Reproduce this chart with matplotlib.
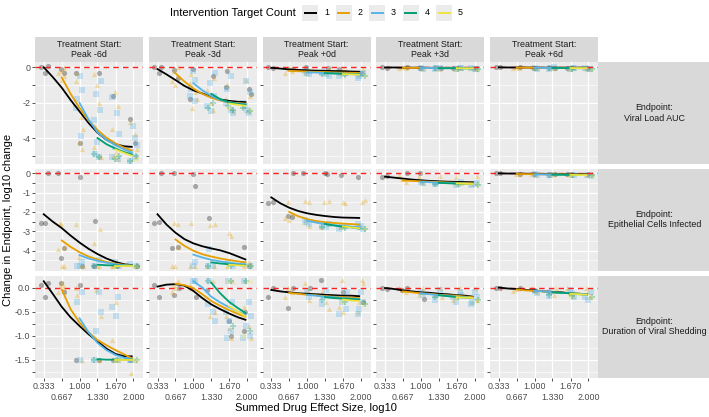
import matplotlib.pyplot as plt
from matplotlib.patches import Rectangle
from matplotlib.ticker import FixedLocator

plt.rcParams['font.family'] = ['Liberation Sans', 'DejaVu Sans']
plt.rcParams['axes.unicode_minus'] = False

# ---- data -------------------------------------------------------------
col_labels = ['Treatment Start:\nPeak -6d', 'Treatment Start:\nPeak -3d', 'Treatment Start:\nPeak +0d',
              'Treatment Start:\nPeak +3d', 'Treatment Start:\nPeak +6d']
row_labels = ['Endpoint:\nViral Load AUC', 'Endpoint:\nEpithelial Cells Infected',
              'Endpoint:\nDuration of Viral Shedding']
counts = ['1', '2', '3', '4', '5']
x_levels = [0.333, 0.667, 1.0, 1.33, 1.67, 2.0]
fit_x = [0.333, 0.5, 0.667, 0.833, 1.0, 1.167, 1.333, 1.5, 1.667, 1.833, 1.97]
x_ticks_a = [0.333, 1.0, 1.67]
x_labels_a = ['0.333', '1.000', '1.670']
x_ticks_b = [0.667, 1.33, 2.0]
x_labels_b = ['0.667', '1.330', '2.000']
row_yticks = [[0, -2, -4], [0, -1, -2, -3, -4], [0.0, -0.5, -1.0, -1.5]]
row_yticklabels = [['0', '-2', '-4'], ['0', '-1', '-2', '-3', '-4'], ['0.0', '-0.5', '-1.0', '-1.5']]
row_yminor = [[-1, -3, -5], [-0.5, -1.5, -2.5, -3.5, -4.5], [-0.25, -0.75, -1.25, -1.75]]

# points: per target count, per x level
vl_m6_pts = [
    [[0.0, -0.35, 0.05], [-0.1, -0.35], [-0.3, -4.3], [-0.3], [-1.6], [-2.9, -4.3]],
    [[], [-0.2, -0.5, -0.3, -0.7, -0.05], [-0.3, -0.8, -2.8, -3.5, -4.2, -4.6], [-0.4, -1.0, -2.0, -3.3, -4.5, -5.0, -5.1],
     [-1.4, -2.2, -3.5, -4.8, -5.2, -5.0], [-3.1, -3.8, -4.6, -5.2, -5.0]],
    [[], [], [-0.5, -1.3, -1.8, -2.3, -3.9], [-0.8, -1.5, -2.4, -3.0, -4.2, -5.1, -4.9],
     [-1.7, -2.6, -3.8, -4.5, -5.2, -5.1], [-3.3, -4.0, -4.8, -5.3, -5.1, -4.4]],
    [[], [], [], [-4.9, -5.1], [-5.0, -5.2], [-5.0, -5.3]],
    [[], [], [], [], [-5.1], [-5.2]]]
vl_m3_pts = [
    [[0.0, -0.3, 0.0], [-0.15, -0.6], [-1.8, -0.1], [-0.5], [-0.2, -1.1], [-1.2, -1.5]],
    [[], [-0.2, -0.5, -0.8, -1.0, 0.0], [-0.4, -0.9, -1.4, -1.8, -2.3], [-0.6, -1.3, -2.0, -2.4],
     [-1.0, -1.8, -2.3, -2.5], [-0.7, -1.6, -2.2, -2.5]],
    [[], [], [-0.2, -0.7, -1.2, -1.6, -1.9], [-0.3, -0.9, -1.6, -2.2, -2.5], [-0.5, -1.2, -2.0, -2.4, -2.6],
     [-0.8, -1.4, -2.0, -2.4, -2.6, -2.2]],
    [[], [], [], [-2.3, -2.0], [-2.4, -2.2], [-2.5, -2.3]],
    [[], [], [], [], [-2.3], [-2.4]]]
vl_p0_pts = [
    [[0.0, -0.05], [-0.1], [0.0], [-0.05], [-0.1], [-0.3]],
    [[], [-0.1, -0.2, -0.3, 0.0], [-0.2, -0.3, -0.1], [-0.3, -0.1, -0.2], [-0.2, -0.35, -0.1], [-0.1, -0.4, -0.25]],
    [[], [], [-0.3, -0.4, -0.2], [-0.3, -0.4, -0.5, -0.2], [-0.3, -0.5, -0.4], [-0.3, -0.5, -0.6, -0.4]],
    [[], [], [], [-0.4], [-0.45], [-0.5]],
    [[], [], [], [], [-0.4], [-0.45]]]
vl_p3_pts = [
    [[0.0, -0.02], [0.0], [-0.02], [-0.03], [-0.02], [-0.03]],
    [[], [0.0, -0.04, -0.06], [-0.03, -0.06, 0.0], [-0.04, -0.07], [-0.04, -0.08, 0.0], [-0.05, -0.08]],
    [[], [], [-0.04, -0.08], [-0.05, -0.1, -0.02], [-0.06, -0.1, -0.03], [-0.05, -0.1, -0.12]],
    [[], [], [], [-0.06], [-0.08], [-0.1]],
    [[], [], [], [], [-0.07], [-0.1]]]
vl_p6_pts = [
    [[0.0, -0.01], [0.0], [-0.02], [-0.02], [-0.02], [-0.03]],
    [[], [0.0, -0.03, -0.05], [-0.02, -0.05, 0.0], [-0.03, -0.06], [-0.04, -0.07, 0.0], [-0.04, -0.07]],
    [[], [], [-0.03, -0.07], [-0.04, -0.08, -0.01], [-0.05, -0.09, -0.02], [-0.05, -0.09, -0.11]],
    [[], [], [], [-0.05], [-0.07], [-0.09]],
    [[], [], [], [], [-0.06], [-0.09]]]
ec_m6_pts = [
    [[-2.55, -2.55, 0.0], [-4.4, -3.85, 0.0], [-0.2, -4.77], [-2.45, -4.77], [-4.77], [-4.77]],
    [[], [-2.6, -3.8, -3.9, -4.77, -4.77, -2.55], [-2.6, -4.77, -4.77, -4.3], [-2.9, -3.6, -4.77, -4.77],
     [-4.77, -4.77], [-4.77, -4.77]],
    [[], [], [-4.77, -4.6, -4.77], [-4.77, -4.5], [-4.77, -4.6], [-4.77, -4.7]],
    [[], [], [], [-4.77], [-4.77], [-4.77]],
    [[], [], [], [], [-4.77], [-4.77]]]
ec_m3_pts = [
    [[-2.55, -2.5, 0.0], [0.0, -3.8, -3.85], [-0.05, -0.65], [-2.3], [], [-3.8, -4.77]],
    [[], [-2.55, -3.8, -4.77, -4.77, -2.6], [-2.55, -4.77, -4.77], [-2.6, -2.65, -4.77, -4.77],
     [-3.1, -3.25, -4.77], [-4.77, -4.6]],
    [[], [], [-4.77, -4.6], [-3.9, -4.77, -4.77], [-4.77, -4.6], [-4.77, -4.7]],
    [[], [], [], [-4.77], [-4.77], [-4.77]],
    [[], [], [], [], [-4.77], [-4.77]]]
ec_p0_pts = [
    [[-1.55, -1.5], [0.0, -2.2, -2.25], [0.0], [0.0, -0.05], [-0.1], [-0.2]],
    [[], [-1.5, -2.1, -2.3, -2.4], [-1.5, -1.45, -2.5, -2.7], [-1.45, -1.5, -2.6, -2.8], [-1.5, -1.55, -2.7, -2.8],
     [-1.5, -1.4, -2.8]],
    [[], [], [-2.5, -2.6, -2.4], [-2.7, -2.8, -2.6], [-2.8, -2.7, -2.9], [-2.7, -2.9, -2.8, -2.6]],
    [[], [], [], [-2.8], [-2.85], [-2.9]],
    [[], [], [], [], [-2.8], [-2.85]]]
ec_p3_pts = [
    [[-0.2, -0.15], [0.0], [0.0], [], [], []],
    [[], [-0.3, -0.45, -0.1], [-0.4, -0.5, -0.15], [-0.45, -0.15], [-0.5, -0.2], [-0.15, -0.55]],
    [[], [], [-0.45, -0.5], [-0.5, -0.55], [-0.55, -0.45, -0.6], [-0.5, -0.6, -0.55]],
    [[], [], [], [-0.55], [-0.55], [-0.6]],
    [[], [], [], [], [-0.55], [-0.58]]]
ec_p6_pts = [
    [[0.0, -0.01], [-0.02], [-0.03], [-0.03], [-0.04], [-0.05]],
    [[], [-0.03, -0.06], [-0.04, -0.08], [-0.05, -0.09], [-0.06, -0.1], [-0.06, -0.1]],
    [[], [], [-0.06, -0.1], [-0.07, -0.11], [-0.08, -0.12], [-0.08, -0.13]],
    [[], [], [], [-0.09], [-0.1], [-0.11]],
    [[], [], [], [], [-0.1], [-0.12]]]
ds_m6_pts = [
    [[0.05, -0.2, 0.1], [0.1, -0.1], [-1.5, 0.05], [-1.5], [-1.5], [-1.5]],
    [[], [0.05, 0.0, -0.1, 0.1], [-1.5, -0.15, 0.0], [-1.5, -0.6, -0.05], [-1.5, -1.1, -0.3], [-1.5, -1.78]],
    [[], [], [-1.5, -0.1, -0.3], [-1.5, -0.1, -0.5, -0.9], [-1.5, -0.4, -0.6, -0.2], [-1.5, -1.5]],
    [[], [], [], [-1.5], [-1.5], [-1.5]],
    [[], [], [], [], [-1.5], [-1.5]]]
ds_m3_pts = [
    [[0.05, -0.19], [0.0, -0.15], [-0.2], [-0.05], [-0.7, -1.0], [-0.5, -0.9]],
    [[], [0.05, 0.13, -0.1, 0.0], [0.13, 0.0, 0.05], [0.13, -0.5, -0.6], [0.13, -0.6, -0.85, -1.05],
     [0.13, -0.4, -0.8, -1.05]],
    [[], [], [0.13, 0.13], [0.13, -0.35, -0.5, -0.7], [0.13, -0.3, -0.5, -0.7, -0.9, -1.05],
     [0.13, -0.3, -0.6, -0.8, -1.0, -1.05]],
    [[], [], [], [0.13], [0.13, -0.8], [0.13, -0.9]],
    [[], [], [], [], [0.13], [0.13, -1.0]]]
ds_p0_pts = [
    [[-0.2, 0.0], [0.0, -0.42], [0.0], [0.15], [-0.1], [-0.3]],
    [[], [0.0, -0.1, -0.2], [-0.05, -0.25, 0.1], [-0.1, -0.3, -0.45], [0.16, -0.2, -0.4, -0.5],
     [0.1, -0.3, -0.5, 0.16]],
    [[], [], [-0.1, -0.2], [-0.2, -0.35, -0.05], [-0.1, -0.3, -0.45, -0.55], [-0.1, -0.3, -0.45, -0.55]],
    [[], [], [], [-0.25], [-0.3], [-0.35]],
    [[], [], [], [], [-0.3], [-0.35]]]
ds_p3_pts = [
    [[0.0, -0.03], [0.0, -0.05], [-0.24], [], [], []],
    [[], [-0.05, -0.1, 0.0], [-0.1, 0.0, -0.15], [-0.15, 0.0, -0.2], [-0.2, 0.0, -0.25], [0.0, -0.25, -0.3]],
    [[], [], [-0.1, -0.15], [-0.15, -0.25, -0.05], [-0.15, -0.3, -0.1, -0.2], [-0.1, -0.2, -0.3, -0.35]],
    [[], [], [], [-0.2], [-0.2], [-0.25]],
    [[], [], [], [], [-0.22], [-0.25]]]
ds_p6_pts = [
    [[0.0, -0.02], [0.0], [-0.05], [], [], []],
    [[], [-0.03, 0.0, -0.08], [-0.05, -0.1, 0.0], [-0.1, -0.15, 0.0], [-0.12, -0.18, 0.0], [-0.1, -0.2, 0.0]],
    [[], [], [-0.08, -0.12], [-0.1, -0.18], [-0.12, -0.2, -0.05], [-0.1, -0.2, -0.25]],
    [[], [], [], [-0.15], [-0.18], [-0.2]],
    [[], [], [], [], [-0.18], [-0.2]]]

# smooth fits: values at the tail of fit_x
vl_m6_fit = [[0.0, -0.55, -1.15, -1.85, -2.5, -3.15, -3.7, -4.1, -4.35, -4.47, -4.5],
             [-0.57, -1.5, -2.3, -3.0, -3.55, -3.98, -4.3, -4.55, -4.7],
             [-2.02, -2.95, -3.68, -4.1, -4.4, -4.65, -4.82],
             [-4.0, -4.35, -4.6, -4.8, -4.93],
             [-4.65, -4.85, -5.0]]
vl_m3_fit = [[-0.1, -0.4, -0.72, -1.05, -1.3, -1.48, -1.68, -1.82, -1.9, -1.95, -1.97],
             [-0.34, -0.8, -1.2, -1.5, -1.72, -1.88, -1.98, -2.03, -2.05],
             [-0.9, -1.3, -1.62, -1.85, -1.98, -2.05, -2.08],
             [-1.5, -1.8, -1.98, -2.07, -2.12],
             [-2.05, -2.12, -2.18]]
vl_p0_fit = [[-0.03, -0.07, -0.12, -0.15, -0.17, -0.19, -0.2, -0.21, -0.22, -0.24, -0.25],
             [-0.2, -0.22, -0.24, -0.26, -0.27, -0.29, -0.3, -0.31, -0.32],
             [-0.28, -0.3, -0.32, -0.34, -0.35, -0.37, -0.38],
             [-0.33, -0.35, -0.37, -0.39, -0.4],
             [-0.38, -0.4, -0.42]]
vl_p3_fit = [[-0.01, -0.01, -0.02, -0.02, -0.02, -0.03, -0.03, -0.03, -0.03, -0.03, -0.03],
             [-0.03, -0.03, -0.03, -0.04, -0.04, -0.04, -0.04, -0.04, -0.04],
             [-0.04, -0.04, -0.05, -0.05, -0.05, -0.05, -0.05],
             [-0.05, -0.05, -0.05, -0.06, -0.06],
             [-0.05, -0.06, -0.06]]
vl_p6_fit = [[0.0, -0.01, -0.01, -0.01, -0.02, -0.02, -0.02, -0.02, -0.02, -0.02, -0.02],
             [-0.02, -0.02, -0.03, -0.03, -0.03, -0.03, -0.03, -0.03, -0.03],
             [-0.03, -0.03, -0.04, -0.04, -0.04, -0.04, -0.04],
             [-0.04, -0.04, -0.04, -0.05, -0.05],
             [-0.04, -0.05, -0.05]]
ec_m6_fit = [[-2.12, -2.5, -2.83, -3.22, -3.58, -3.9, -4.17, -4.4, -4.58, -4.7, -4.74],
             [-3.47, -3.8, -4.08, -4.3, -4.45, -4.58, -4.67, -4.73, -4.76],
             [-4.23, -4.4, -4.52, -4.62, -4.7, -4.75, -4.77],
             [-4.72, -4.75, -4.76, -4.77, -4.77],
             [-4.77, -4.77, -4.77]]
ec_m3_fit = [[-2.12, -2.65, -3.07, -3.4, -3.62, -3.77, -3.88, -3.98, -4.12, -4.3, -4.45],
             [-3.42, -3.75, -4.0, -4.18, -4.3, -4.4, -4.48, -4.55, -4.6],
             [-4.2, -4.35, -4.47, -4.55, -4.62, -4.67, -4.7],
             [-4.6, -4.66, -4.7, -4.73, -4.75],
             [-4.72, -4.75, -4.77]]
ec_p0_fit = [[-1.25, -1.55, -1.78, -1.95, -2.07, -2.15, -2.21, -2.26, -2.29, -2.3, -2.31],
             [-2.0, -2.22, -2.37, -2.47, -2.53, -2.57, -2.6, -2.63, -2.65],
             [-2.45, -2.55, -2.62, -2.68, -2.72, -2.76, -2.78],
             [-2.62, -2.7, -2.76, -2.8, -2.85],
             [-2.75, -2.8, -2.84]]
ec_p3_fit = [[-0.18, -0.23, -0.28, -0.33, -0.37, -0.4, -0.42, -0.44, -0.45, -0.46, -0.47],
             [-0.38, -0.4, -0.42, -0.44, -0.46, -0.48, -0.5, -0.51, -0.52],
             [-0.45, -0.47, -0.49, -0.51, -0.53, -0.54, -0.55],
             [-0.5, -0.52, -0.54, -0.55, -0.56],
             [-0.53, -0.55, -0.56]]
ec_p6_fit = [[-0.01, -0.02, -0.02, -0.03, -0.03, -0.04, -0.04, -0.04, -0.05, -0.05, -0.05],
             [-0.04, -0.05, -0.05, -0.06, -0.06, -0.06, -0.07, -0.07, -0.07],
             [-0.06, -0.07, -0.07, -0.08, -0.08, -0.08, -0.09],
             [-0.08, -0.08, -0.09, -0.09, -0.1],
             [-0.09, -0.1, -0.1]]
ds_m6_fit = [[0.13, -0.13, -0.4, -0.62, -0.8, -0.97, -1.12, -1.27, -1.38, -1.43, -1.43],
             [-0.04, -0.45, -0.73, -0.93, -1.09, -1.2, -1.3, -1.39, -1.47],
             [-0.64, -0.93, -1.15, -1.3, -1.4, -1.46, -1.5],
             [-1.49, -1.5, -1.5, -1.5, -1.5],
             [-1.5, -1.5, -1.5]]
ds_m3_fit = [[0.02, 0.06, 0.07, 0.04, -0.07, -0.22, -0.35, -0.45, -0.54, -0.62, -0.67],
             [0.08, 0.05, -0.01, -0.14, -0.28, -0.38, -0.47, -0.55, -0.61],
             [0.13, 0.0, -0.19, -0.31, -0.41, -0.5, -0.57],
             [0.1, -0.12, -0.3, -0.43, -0.53],
             [-0.39, -0.5, -0.6]]
ds_p0_fit = [[-0.05, -0.08, -0.1, -0.12, -0.13, -0.14, -0.15, -0.16, -0.17, -0.17, -0.18],
             [-0.11, -0.13, -0.15, -0.16, -0.18, -0.19, -0.2, -0.21, -0.22],
             [-0.15, -0.17, -0.19, -0.2, -0.22, -0.23, -0.24],
             [-0.2, -0.22, -0.23, -0.24, -0.25],
             [-0.25, -0.27, -0.28]]
ds_p3_fit = [[-0.01, -0.03, -0.06, -0.08, -0.1, -0.11, -0.13, -0.14, -0.16, -0.17, -0.19],
             [-0.08, -0.1, -0.12, -0.13, -0.15, -0.16, -0.17, -0.19, -0.2],
             [-0.12, -0.14, -0.16, -0.17, -0.19, -0.2, -0.22],
             [-0.16, -0.18, -0.2, -0.21, -0.22],
             [-0.2, -0.21, -0.22]]
ds_p6_fit = [[0.0, -0.02, -0.03, -0.05, -0.06, -0.08, -0.09, -0.1, -0.12, -0.13, -0.14],
             [-0.04, -0.06, -0.07, -0.08, -0.1, -0.11, -0.12, -0.13, -0.14],
             [-0.07, -0.08, -0.1, -0.11, -0.12, -0.13, -0.14],
             [-0.1, -0.11, -0.12, -0.14, -0.15],
             [-0.13, -0.14, -0.15]]

all_pts = [[vl_m6_pts, vl_m3_pts, vl_p0_pts, vl_p3_pts, vl_p6_pts],
           [ec_m6_pts, ec_m3_pts, ec_p0_pts, ec_p3_pts, ec_p6_pts],
           [ds_m6_pts, ds_m3_pts, ds_p0_pts, ds_p3_pts, ds_p6_pts]]
all_fit = [[vl_m6_fit, vl_m3_fit, vl_p0_fit, vl_p3_fit, vl_p6_fit],
           [ec_m6_fit, ec_m3_fit, ec_p0_fit, ec_p3_fit, ec_p6_fit],
           [ds_m6_fit, ds_m3_fit, ds_p0_fit, ds_p3_fit, ds_p6_fit]]

# ---- style / layout ---------------------------------------------------
colors = ['#000000', '#E69F00', '#56B4E9', '#009E73', '#F0E442']
markers = ['o', '^', 's', 'P', 'X']
jitter = [-0.06, 0.03, 0.07, -0.02, 0.05, -0.07, 0.0, 0.04, -0.04]
row_ylim = [(-5.47, 0.30), (-5.02, 0.24), (-1.87, 0.25)]
W, H = 709, 417
col_left = [35, 148.75, 262.5, 376.25, 490]
panel_w = 108
row_top = [62, 168.5, 275.5]
panel_h = 102
strip_top = 37
strip_right = 598


def box(x0, y0, w, h):
    return [x0 / W, 1 - (y0 + h) / H, w / W, h / H]


fig = plt.figure(figsize=(W / 100, H / 100), dpi=100)

ov = fig.add_axes([0, 0, 1, 1])
ov.set_xlim(0, W)
ov.set_ylim(H, 0)
ov.axis('off')

for r in range(3):
    for c in range(5):
        ax = fig.add_axes(box(col_left[c], row_top[r], panel_w, panel_h))
        ax.set_facecolor('#EBEBEB')
        for s in ax.spines.values():
            s.set_visible(False)
        pts = all_pts[r][c]
        for g in range(5):
            xs, ys = [], []
            k = 3 * g
            for li, vals in enumerate(pts[g]):
                for v in vals:
                    xs.append(x_levels[li] + jitter[k % len(jitter)])
                    ys.append(v)
                    k += 1
            ax.scatter(xs, ys, s=14, marker=markers[g], color=colors[g], alpha=0.3,
                       linewidths=0, zorder=2)
        ax.axhline(0, color='#FF2020', ls=(0, (4, 3)), lw=1.0, zorder=3)
        for g in range(5):
            fy = all_fit[r][c][g]
            ax.plot(fit_x[len(fit_x) - len(fy):], fy, color=colors[g], lw=1.3, zorder=4)
        ax.set_xlim(0.17, 2.18)
        ax.set_ylim(*row_ylim[r])
        ax.set_xticks(x_ticks_a)
        ax.set_xticks(x_ticks_b, minor=True)
        ax.set_yticks(row_yticks[r])
        ax.yaxis.set_minor_locator(FixedLocator(row_yminor[r]))
        ax.grid(which='both', axis='x', color='white', lw=0.9)
        ax.grid(which='major', axis='y', color='white', lw=0.9)
        ax.grid(which='minor', axis='y', color='white', lw=0.45)
        ax.set_axisbelow(True)
        ax.tick_params(axis='y', which='minor', length=0)
        ax.tick_params(which='both', length=2, width=0.6, color='#333333',
                       labelsize=6.4, labelcolor='#4D4D4D', pad=1.5)
        if r == 2:
            ax.set_xticklabels(x_labels_a)
            ax.set_xticklabels(x_labels_b, minor=True)
            ax.tick_params(axis='x', which='minor', pad=8.8)
        else:
            ax.tick_params(axis='x', which='both', length=0, labelbottom=False)
        if c == 0:
            ax.set_yticklabels(row_yticklabels[r])
        else:
            ax.tick_params(axis='y', length=0, labelleft=False)

# strips
for c in range(5):
    ov.add_patch(Rectangle((col_left[c], strip_top), panel_w, row_top[0] - strip_top,
                           facecolor='#D9D9D9', edgecolor='none'))
    ov.text(col_left[c] + panel_w / 2, (strip_top + row_top[0]) / 2, col_labels[c],
            ha='center', va='center', fontsize=6.4, color='#1A1A1A', linespacing=1.15)
for r in range(3):
    ov.add_patch(Rectangle((strip_right, row_top[r]), W - strip_right, panel_h,
                           facecolor='#D9D9D9', edgecolor='none'))
    ov.text((strip_right + W) / 2 + 1, row_top[r] + panel_h / 2, row_labels[r],
            ha='center', va='center', fontsize=6.4, color='#1A1A1A', linespacing=1.15)

# axis titles
ov.text(316, 408, 'Summed Drug Effect Size, log10', ha='center', va='center', fontsize=8)
ov.text(8, 220, 'Change in Endpoint, log10 change', ha='center', va='center',
        rotation=90, fontsize=8)

# legend
ov.text(170, 12.5, 'Intervention Target Count', ha='left', va='center', fontsize=8)
key_x = [302, 335.5, 369, 402.5, 436]
for i in range(5):
    ov.add_patch(Rectangle((key_x[i], 4.5), 16, 16, facecolor='#EBEBEB', edgecolor='none'))
    ov.plot([key_x[i] + 2.5, key_x[i] + 13.5], [12.5, 12.5], color=colors[i], lw=1.4)
    ov.text(key_x[i] + 22, 12.5, counts[i], ha='left', va='center', fontsize=6.4)

fig.savefig('out.png', dpi=100)
